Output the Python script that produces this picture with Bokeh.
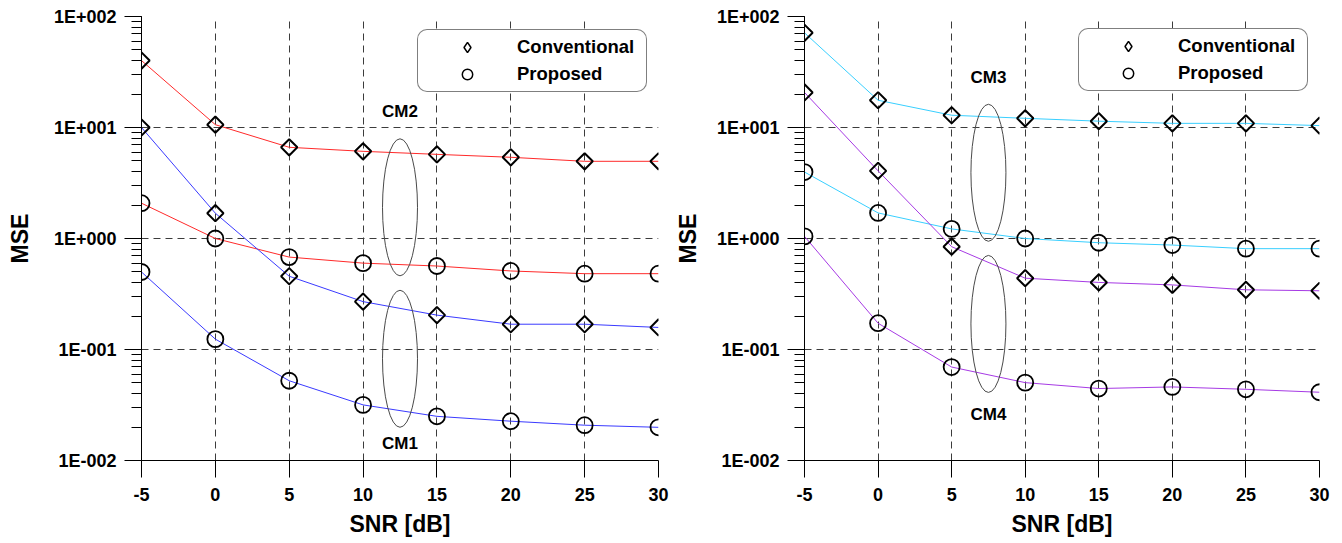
import numpy as np
from bokeh.plotting import figure
from bokeh.layouts import row
from bokeh.models import (Range1d, FixedTicker, LogTicker, CustomJSTickFormatter,
                          Legend, LegendItem)
from bokeh.core.properties import value
from bokeh.embed import file_html
from bokeh.resources import INLINE

# ---------------- data ----------------
snr = [-5, 0, 5, 10, 15, 20, 25, 30]
x_ticks = [-5, 0, 5, 10, 15, 20, 25, 30]

cm1_conv = [10.0, 1.69, 0.457, 0.27, 0.204, 0.169, 0.169, 0.158]
cm1_prop = [0.499, 0.124, 0.0523, 0.0317, 0.025, 0.0226, 0.0208, 0.0199]
cm2_conv = [40.1, 10.6, 6.63, 6.1, 5.73, 5.39, 4.96, 4.96]
cm2_prop = [2.08, 1.0, 0.68, 0.60, 0.565, 0.51, 0.482, 0.482]

cm3_conv = [71.3, 17.6, 12.9, 12.1, 11.4, 10.9, 10.9, 10.4]
cm3_prop = [3.97, 1.70, 1.22, 1.0, 0.916, 0.873, 0.81, 0.81]
cm4_conv = [20.7, 4.07, 0.844, 0.439, 0.402, 0.382, 0.345, 0.338]
cm4_prop = [1.045, 0.1725, 0.0695, 0.0503, 0.0445, 0.046, 0.0438, 0.0412]

legend_labels = ["Conventional", "Proposed"]

# annotation groups (ellipse centre, label position)
left_group_labels = ["CM2", "CM1"]
left_ell_x = [12.5, 12.5]
left_ell_y = [1.91, 0.0825]
left_lab_y = [13.96, 0.0142]

right_group_labels = ["CM3", "CM4"]
right_ell_x = [7.5, 7.5]
right_ell_y = [3.91, 0.17]
right_lab_y = [28.5, 0.0262]

RED = "#ff2a2a"
BLUE = "#3a3aff"
CYAN = "#38cfff"
PURPLE = "#a63ae4"

FONT = "Liberation Sans"

fmt_code = """
const e = Math.round(Math.log10(tick));
const a = String(Math.abs(e));
return "1E" + (e < 0 ? "-" : "+") + "000".slice(a.length) + a;
"""


def make_panel(series, ell_x, ell_y, lab_y, labels, legend_xy, borders, ylab_standoff):
    bl, br, bt, bb = borders
    p = figure(width=671, height=543, y_axis_type="log",
               x_range=Range1d(-5, 30), y_range=Range1d(1e-2, 1e2),
               output_backend="svg", toolbar_location=None,
               min_border_left=bl, min_border_right=br,
               min_border_top=bt, min_border_bottom=bb)
    p.outline_line_color = None
    p.background_fill_color = "white"

    p.xaxis.ticker = FixedTicker(ticks=x_ticks)
    p.xaxis.formatter = CustomJSTickFormatter(code="return String(tick);")
    p.yaxis.ticker = LogTicker(num_minor_ticks=10)
    p.yaxis.formatter = CustomJSTickFormatter(code=fmt_code)

    for ax in (p.xaxis, p.yaxis):
        ax.axis_line_color = "black"
        ax.axis_line_width = 1
        ax.major_tick_line_color = "black"
        ax.minor_tick_line_color = "black"
        ax.major_tick_in = 0
        ax.major_tick_out = 17
        ax.minor_tick_in = 0
        ax.major_label_text_font = FONT
        ax.major_label_text_font_style = "bold"
        ax.major_label_text_font_size = "18px"
        ax.major_label_text_color = "black"
        ax.axis_label_text_font = FONT
        ax.axis_label_text_font_style = "bold"
        ax.axis_label_text_font_size = "23px"
        ax.axis_label_text_color = "black"
    p.xaxis.minor_tick_out = 0
    p.yaxis.minor_tick_out = 10
    p.xaxis.major_label_standoff = 10
    p.yaxis.major_label_standoff = 8
    p.xaxis.axis_label = "SNR [dB]"
    p.yaxis.axis_label = "MSE"
    p.xaxis.axis_label_standoff = 7
    p.yaxis.axis_label_standoff = ylab_standoff

    for g in (p.xgrid, p.ygrid):
        g.grid_line_color = "#3c3c3c"
        g.grid_line_dash = "7 5"
        g.grid_line_width = 1

    for conv, prop, color in series:
        p.line(snr, conv, line_color=color, line_width=1)
        p.line(snr, prop, line_color=color, line_width=1)

    for conv, prop, color in series:
        p.scatter(snr, conv, marker="square", angle=np.pi / 4, size=11.5,
                  fill_color=None, line_color="black", line_width=2)
        p.scatter(snr, prop, marker="circle", size=16,
                  fill_color=None, line_color="black", line_width=1.8)

    # legend-only renderers (a single undefined point, never drawn in the plot)
    leg_d = p.scatter(x=[np.nan], y=[np.nan], marker="diamond", fill_color=None,
                      line_color="black", line_width=1.5)
    leg_c = p.scatter(x=[np.nan], y=[np.nan], marker="circle", fill_color=None,
                      line_color="black", line_width=1.5)

    p.ellipse(x=ell_x, y=ell_y, width=35, height=137,
              width_units="screen", height_units="screen",
              fill_color=None, line_color="#4a4a4a", line_width=1)
    p.text(x=ell_x, y=lab_y, text=labels, text_align="center",
           text_baseline="middle", text_font=value(FONT),
           text_font_style="bold", text_font_size="17px", text_color="black")

    kw = {}
    if "border_radius" in Legend.properties():
        kw["border_radius"] = 10
    legend = Legend(items=[LegendItem(label=legend_labels[0], renderers=[leg_d]),
                           LegendItem(label=legend_labels[1], renderers=[leg_c])],
                    location=legend_xy, margin=0, padding=4, spacing=1,
                    glyph_width=90, glyph_height=26, label_height=26,
                    label_width=125, label_standoff=5,
                    label_text_font=FONT, label_text_font_style="bold",
                    label_text_font_size="18.5px", label_text_color="black",
                    border_line_color="black", border_line_width=1,
                    background_fill_color="white", background_fill_alpha=1,
                    **kw)
    p.add_layout(legend)
    return p


p1 = make_panel([(cm2_conv, cm2_prop, RED), (cm1_conv, cm1_prop, BLUE)],
                left_ell_x, left_ell_y, left_lab_y, left_group_labels,
                (276, 368), (141, 13, 15, 83), 18)
p2 = make_panel([(cm3_conv, cm3_prop, CYAN), (cm4_conv, cm4_prop, PURPLE)],
                right_ell_x, right_ell_y, right_lab_y, right_group_labels,
                (274, 369), (132, 23, 16, 81), 13)

layout = row(p1, p2)
open("out.html", "w").write(file_html(layout, INLINE))
